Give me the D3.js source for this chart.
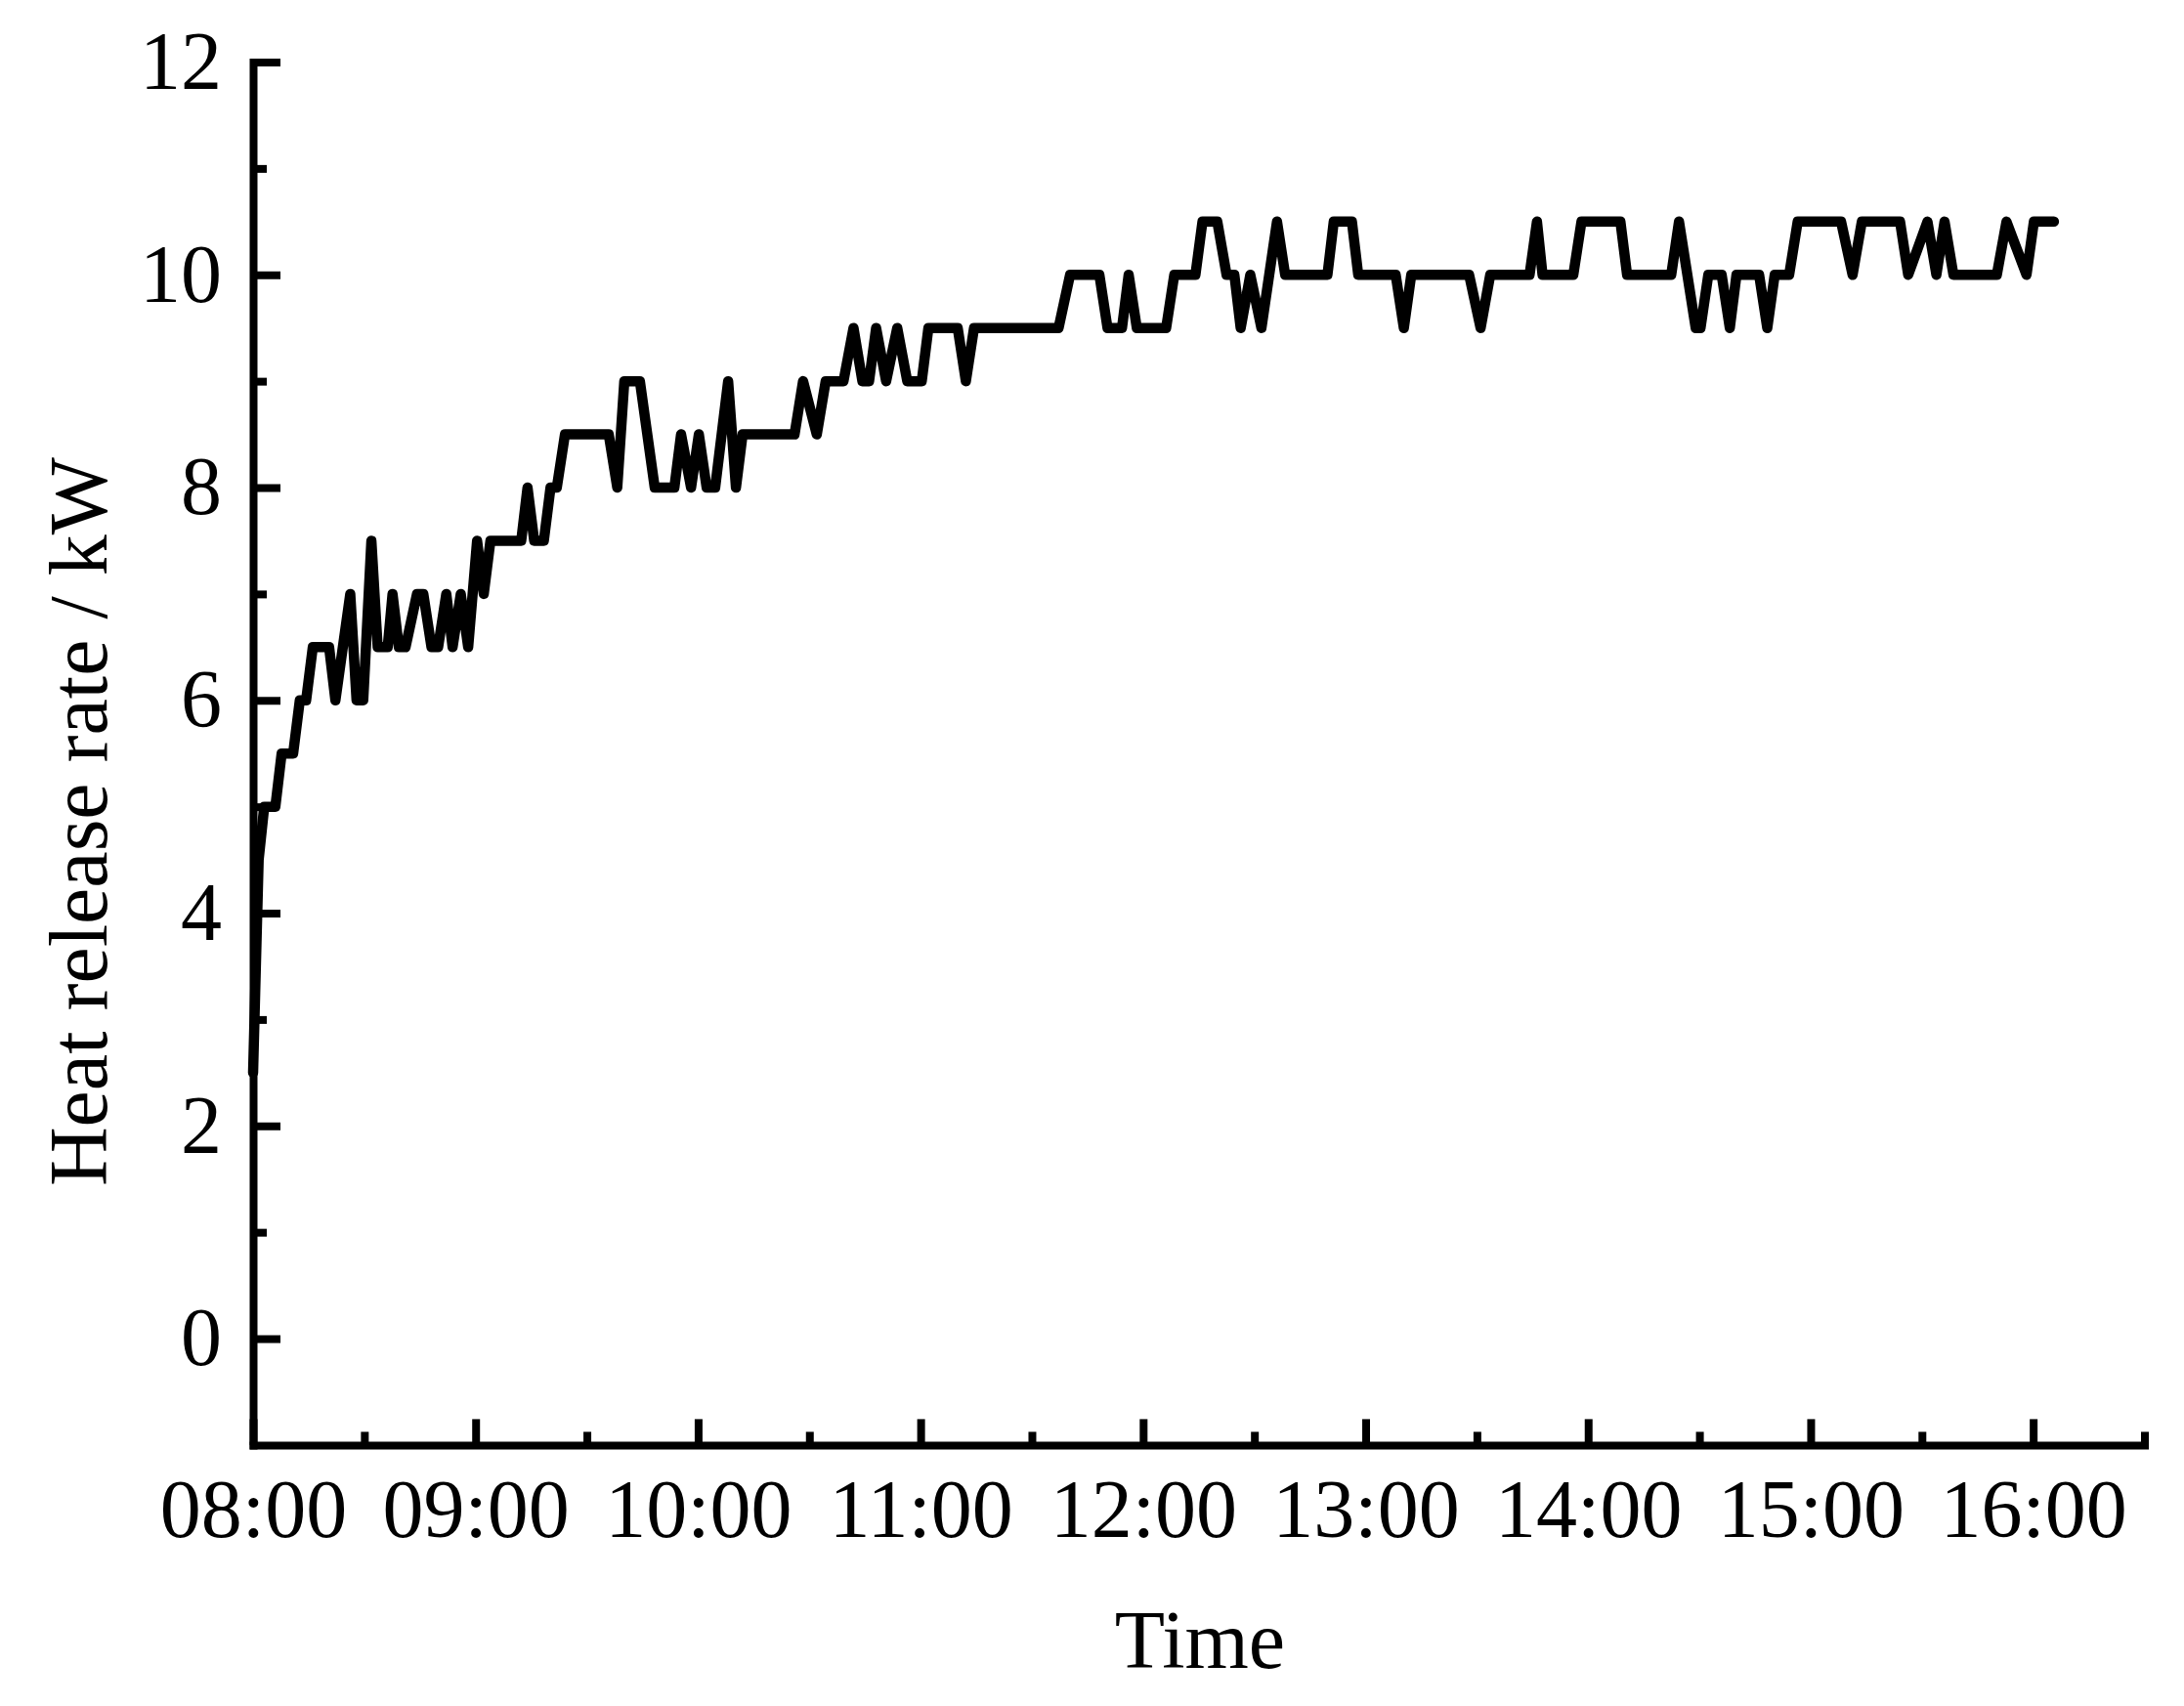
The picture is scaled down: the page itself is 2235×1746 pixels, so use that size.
<!DOCTYPE html>
<html>
<head>
<meta charset="utf-8">
<script src="https://cdn.jsdelivr.net/npm/d3@7"></script>
<style>
  html, body { margin: 0; padding: 0; background: #fff; }
  svg { display: block; }
  text { font-family: "Liberation Serif", "Times New Roman", serif; fill: #000; }
</style>
</head>
<body>
<div id="chart"></div>
<script>
// minutes after 08:00 of each vertex of the trace
const minutes = [
  0, 1.5, 3, 6, 7.7, 10.8, 12.6, 14.3, 16.1, 20.5,
  22.2, 26.2, 27.9, 29.7, 31.9, 33.6, 36.3, 37.6, 39.3, 41.1,
  44.2, 45.9, 48.1, 49.9, 52.1, 53.8, 56, 58, 60.4, 62.2,
  64, 72.3, 74, 75.8, 78.4, 80.2, 81.9, 84.1, 95.9, 98.2,
  100.1, 104.3, 108.3, 113.6, 115.4, 118.1, 120.2, 122.3, 124.6, 128.1,
  130.2, 132, 146, 148.3, 152, 154.4, 159.2, 161.9, 164.3, 166.1,
  168, 170.7, 173.7, 176.4, 180.3, 182.1, 190, 192.2, 194.4, 217.2,
  220.3, 228.2, 230.4, 234.3, 236.1, 238.3, 246.2, 248.4, 254.1, 256,
  260, 262.5, 264.6, 266.3, 268.9, 271.9, 276.1, 278.3, 289.7, 291.4,
  296.3, 298, 308.1, 310.3, 312.3, 327.9, 331, 333.6, 344.2, 346.2,
  347.7, 356, 358.2, 368.7, 370.5, 382.4, 384.5, 389, 390.3, 392.4,
  396, 398.2, 400, 406.1, 408.3, 410.3, 414.2, 416.5, 428.2, 431.3,
  433.8, 444.1, 446.3, 451.5, 453.9, 456.1, 458.5, 470.2, 472.8, 478.2,
  480.2, 485.6
]
// heat release rate, kW
const heatRelease = [
  2.5, 4.5, 5, 5, 5.5, 5.5, 6, 6, 6.5, 6.5,
  6, 7, 6, 6, 7.5, 6.5, 6.5, 7, 6.5, 6.5,
  7, 7, 6.5, 6.5, 7, 6.5, 7, 6.5, 7.5, 7,
  7.5, 7.5, 8, 7.5, 7.5, 8, 8, 8.5, 8.5, 8,
  9, 9, 8, 8, 8.5, 8, 8.5, 8, 8, 9,
  8, 8.5, 8.5, 9, 8.5, 9, 9, 9.5, 9, 9,
  9.5, 9, 9.5, 9, 9, 9.5, 9.5, 9, 9.5, 9.5,
  10, 10, 9.5, 9.5, 10, 9.5, 9.5, 10, 10, 10.5,
  10.5, 10, 10, 9.5, 10, 9.5, 10.5, 10, 10, 10.5,
  10.5, 10, 10, 9.5, 10, 10, 9.5, 10, 10, 10.5,
  10, 10, 10.5, 10.5, 10, 10, 10.5, 9.5, 9.5, 10,
  10, 9.5, 10, 10, 9.5, 10, 10, 10.5, 10.5, 10,
  10.5, 10.5, 10, 10.5, 10, 10.5, 10, 10, 10.5, 10,
  10.5, 10.5
]
const hourLabels = ['08:00', '09:00', '10:00', '11:00', '12:00', '13:00', '14:00', '15:00', '16:00']
const yTicks = [0, 2, 4, 6, 8, 10, 12]
const yMinorTicks = [1, 3, 5, 7, 9, 11]
const xTitle = 'Time'
const yTitle = 'Heat release rate / kW'

const W = 2235, H = 1746
const fontSize = 84
const parse = d3.timeParse('%H:%M')
const tStart = parse('08:00')
const tEnd = parse('16:30')

const x = d3.scaleTime().domain([tStart, tEnd]).range([259, 2194.5])
const y = d3.scaleLinear().domain([-1, 12]).range([1478.9, 63.5])

const data = minutes.map((m, i) => ({
  t: new Date(+tStart + m * 60000),
  v: heatRelease[i]
}))

const svg = d3.select('#chart').append('svg')
  .attr('width', W)
  .attr('height', H)
  .attr('viewBox', `0 0 ${W} ${H}`)

svg.append('rect').attr('width', W).attr('height', H).attr('fill', '#fff')

// trace
const line = d3.line()
  .x(d => x(d.t))
  .y(d => y(d.v))

svg.append('path')
  .datum(data)
  .attr('d', line)
  .attr('fill', 'none')
  .attr('stroke', '#000')
  .attr('stroke-width', 10.5)
  .attr('stroke-linejoin', 'round')
  .attr('stroke-linecap', 'round')

function styleAxis(g) {
  g.attr('font-size', null).attr('font-family', null)
  g.selectAll('.tick line').attr('stroke', '#000').attr('stroke-width', 8)
  g.selectAll('.tick text').attr('font-size', fontSize).attr('fill', '#000')
}

// y axis
const yAxisG = svg.append('g')
  .attr('transform', `translate(${x(tStart)},0)`)
  .call(d3.axisLeft(y).tickValues(yTicks).tickSize(-28).tickSizeOuter(0).tickPadding(32))
  .call(styleAxis)
yAxisG.select('.domain').attr('stroke', '#000').attr('stroke-width', 8).attr('stroke-linecap', 'square')

svg.append('g')
  .attr('transform', `translate(${x(tStart)},0)`)
  .call(d3.axisLeft(y).tickValues(yMinorTicks).tickSize(-14).tickFormat(''))
  .call(styleAxis)
  .select('.domain').remove()

// x axis
const hourTicks = hourLabels.map(parse)
const halfTicks = d3.timeMinute.every(30).range(tStart, +tEnd + 1)
  .filter(d => d.getMinutes() === 30)

const xAxisG = svg.append('g')
  .attr('transform', `translate(0,${y(-1)})`)
  .call(d3.axisBottom(x).tickValues(hourTicks).tickFormat(d3.timeFormat('%H:%M'))
    .tickSize(-26.5).tickSizeOuter(0).tickPadding(34))
  .call(styleAxis)
xAxisG.select('.domain').attr('stroke', '#000').attr('stroke-width', 8).attr('stroke-linecap', 'square')

svg.append('g')
  .attr('transform', `translate(0,${y(-1)})`)
  .call(d3.axisBottom(x).tickValues(halfTicks).tickSize(-13.5).tickFormat(''))
  .call(styleAxis)
  .select('.domain').remove()

// titles
svg.append('text')
  .attr('x', 1228)
  .attr('y', 1707)
  .attr('text-anchor', 'middle')
  .attr('font-size', fontSize)
  .text(xTitle)

svg.append('text')
  .attr('transform', 'translate(109,841) rotate(-90)')
  .attr('text-anchor', 'middle')
  .attr('font-size', fontSize)
  .text(yTitle)
</script>
</body>
</html>
